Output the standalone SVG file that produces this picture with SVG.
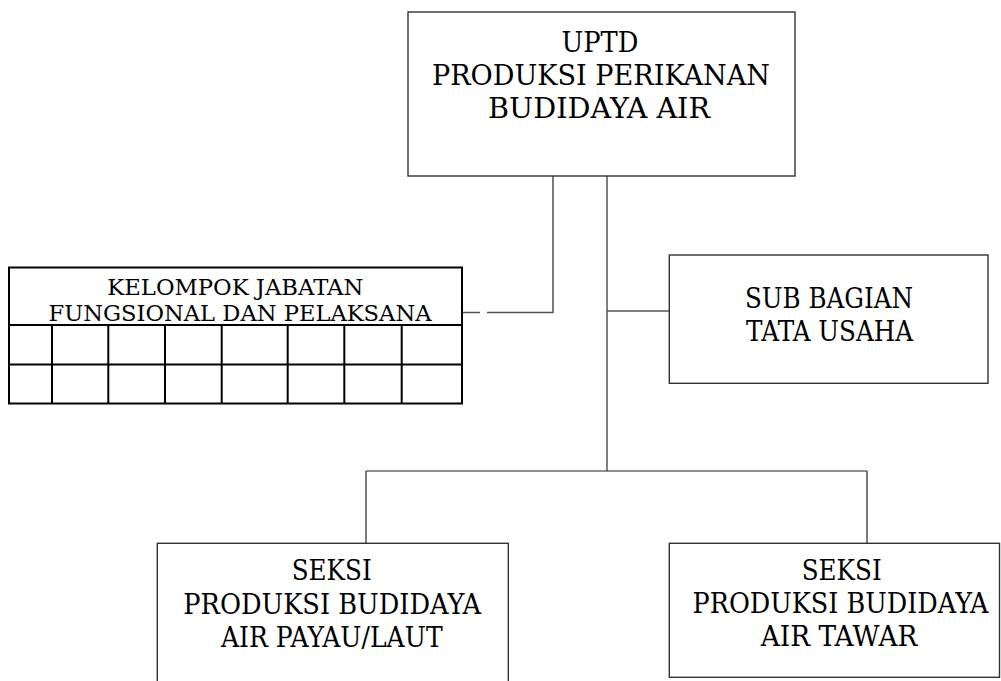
<svg xmlns="http://www.w3.org/2000/svg" width="1001" height="681" viewBox="0 0 1001 681">
<style>
.box{fill:#fff;stroke:#333;stroke-width:1.4}
.grid{fill:#fff;stroke:#000;stroke-width:2}
.gl{stroke:#000;stroke-width:2}
.t{font-family:"DejaVu Serif","Liberation Serif",serif;font-size:27px;fill:#000;text-anchor:middle}
.ts{font-family:"DejaVu Serif","Liberation Serif",serif;font-size:23px;fill:#000;text-anchor:middle}
.c{stroke:#555;stroke-width:1.5;fill:none}
.cd{stroke:#222;stroke-width:1.2;fill:none}
</style>
<rect width="1001" height="681" fill="#fff"/>
<g id="connectors">
<line class="cd" x1="553" y1="176" x2="553" y2="312.5"/>
<line class="c" x1="462" y1="312.5" x2="480" y2="312.5"/>
<line class="c" x1="487" y1="312.5" x2="553.6" y2="312.5"/>
<line class="c" x1="607" y1="176" x2="607" y2="471"/>
<line class="c" x1="607" y1="311" x2="669" y2="311"/>
<line class="cd" x1="366" y1="471" x2="867" y2="471"/>
<line class="cd" x1="366" y1="471" x2="366" y2="543"/>
<line class="cd" x1="867" y1="471" x2="867" y2="543"/>
</g>
<g id="uptd">
<rect class="box" x="408" y="12" width="387" height="164"/>
<text class="t" x="600" y="51.5" textLength="77" lengthAdjust="spacingAndGlyphs">UPTD</text>
<text class="t" x="601" y="85" textLength="338" lengthAdjust="spacingAndGlyphs">PRODUKSI PERIKANAN</text>
<text class="t" x="599" y="118" textLength="222" lengthAdjust="spacingAndGlyphs">BUDIDAYA AIR</text>
</g>
<g id="kelompok">
<rect class="grid" x="9" y="267.5" width="453" height="136"/>
<line class="gl" x1="9" y1="325" x2="462" y2="325"/>
<line class="gl" x1="9" y1="364.5" x2="462" y2="364.5"/>
<line class="gl" x1="52" y1="325" x2="52" y2="403.5"/>
<line class="gl" x1="108.3" y1="325" x2="108.3" y2="403.5"/>
<line class="gl" x1="165" y1="325" x2="165" y2="403.5"/>
<line class="gl" x1="221.7" y1="325" x2="221.7" y2="403.5"/>
<line class="gl" x1="287.7" y1="325" x2="287.7" y2="403.5"/>
<line class="gl" x1="344.3" y1="325" x2="344.3" y2="403.5"/>
<line class="gl" x1="401.7" y1="325" x2="401.7" y2="403.5"/>
<text class="ts" x="235.3" y="295" textLength="256" lengthAdjust="spacingAndGlyphs">KELOMPOK JABATAN</text>
<text class="ts" x="240" y="321.3" textLength="383" lengthAdjust="spacingAndGlyphs">FUNGSIONAL DAN PELAKSANA</text>
</g>
<g id="subbagian">
<rect class="box" x="669.3" y="255" width="318.7" height="128.3"/>
<text class="t" x="829" y="308" textLength="168" lengthAdjust="spacingAndGlyphs">SUB BAGIAN</text>
<text class="t" x="829.6" y="340.7" textLength="167" lengthAdjust="spacingAndGlyphs">TATA USAHA</text>
</g>
<g id="seksi-payau">
<rect class="box" x="157.3" y="543.3" width="351" height="150"/>
<text class="t" x="331.7" y="580" textLength="80" lengthAdjust="spacingAndGlyphs">SEKSI</text>
<text class="t" x="332.2" y="614" textLength="297.7" lengthAdjust="spacingAndGlyphs">PRODUKSI BUDIDAYA</text>
<text class="t" x="331.8" y="647.3" textLength="221.7" lengthAdjust="spacingAndGlyphs">AIR PAYAU/LAUT</text>
</g>
<g id="seksi-tawar">
<rect class="box" x="669.3" y="543.3" width="330.2" height="134"/>
<text class="t" x="841.7" y="579.5" textLength="80" lengthAdjust="spacingAndGlyphs">SEKSI</text>
<text class="t" x="840.5" y="612.9" textLength="296" lengthAdjust="spacingAndGlyphs">PRODUKSI BUDIDAYA</text>
<text class="t" x="839" y="646.2" textLength="156.7" lengthAdjust="spacingAndGlyphs">AIR TAWAR</text>
</g>
</svg>
